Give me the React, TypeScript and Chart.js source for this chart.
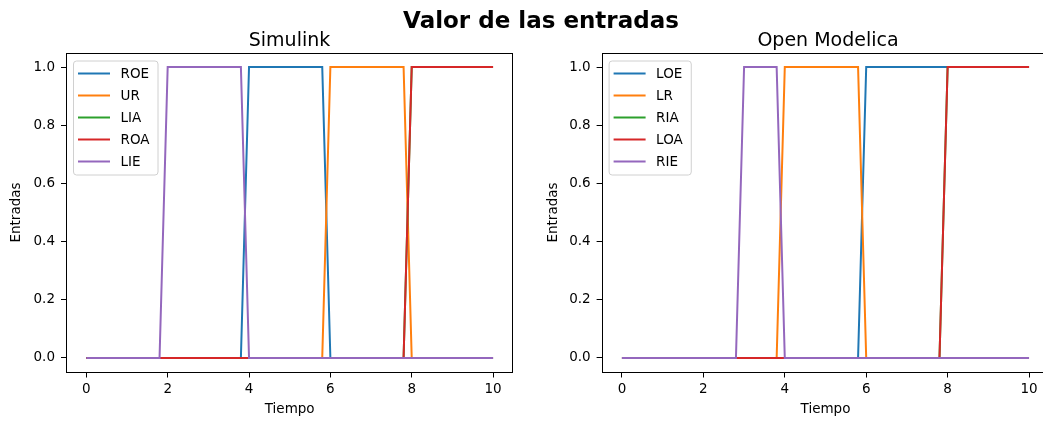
import React, { useEffect, useRef } from "react";
import { Chart, registerables } from "chart.js";

Chart.register(...registerables);

const FONT = "DejaVu Sans";
const FS = 13.5;

// Tick values
const xTickValues = [0, 2, 4, 6, 8, 10];
const yTickValues = [0, 0.2, 0.4, 0.6, 0.8, 1.0];

// tab10 colours
const colors = ["#1f77b4", "#ff7f0e", "#2ca02c", "#d62728", "#9467bd"];

// ---- Simulink series (Tiempo breakpoints / values) ----
const simLabels = ["ROE", "UR", "LIA", "ROA", "LIE"];
const simRoeX = [0, 3.8, 4, 5.8, 6, 10];
const simRoeY = [0, 0, 1, 1, 0, 0];
const simUrX = [0, 5.8, 6, 7.8, 8, 10];
const simUrY = [0, 0, 1, 1, 0, 0];
const simLiaX = [0, 7.8, 8, 10];
const simLiaY = [0, 0, 1, 1];
const simRoaX = [0, 7.8, 8, 10];
const simRoaY = [0, 0, 1, 1];
const simLieX = [0, 1.8, 2, 3.8, 4, 10];
const simLieY = [0, 0, 1, 1, 0, 0];

// ---- Open Modelica series ----
const omLabels = ["LOE", "LR", "RIA", "LOA", "RIE"];
const omLoeX = [0, 5.8, 6, 10];
const omLoeY = [0, 0, 1, 1];
const omLrX = [0, 3.8, 4, 5.8, 6, 10];
const omLrY = [0, 0, 1, 1, 0, 0];
const omRiaX = [0, 7.8, 8, 10];
const omRiaY = [0, 0, 1, 1];
const omLoaX = [0, 7.8, 8, 10];
const omLoaY = [0, 0, 1, 1];
const omRieX = [0, 2.8, 3, 3.8, 4, 10];
const omRieY = [0, 0, 1, 1, 0, 0];

const simXs = [simRoeX, simUrX, simLiaX, simRoaX, simLieX];
const simYs = [simRoeY, simUrY, simLiaY, simRoaY, simLieY];
const omXs = [omLoeX, omLrX, omRiaX, omLoaX, omRieX];
const omYs = [omLoeY, omLrY, omRiaY, omLoaY, omRieY];

const framePlugin = {
  id: "frame",
  afterDatasetsDraw(chart: any) {
    const { ctx, chartArea: a } = chart;
    ctx.save();
    ctx.strokeStyle = "#000";
    ctx.lineWidth = 1;
    const l = Math.round(a.left) + 0.5;
    const t = Math.round(a.top) + 0.5;
    const r = Math.round(a.right) - 0.5;
    const b = Math.round(a.bottom) - 0.5;
    ctx.strokeRect(l, t, r - l, b - t);
    ctx.restore();
  },
};

const legendPlugin = {
  id: "mplLegend",
  afterDraw(chart: any) {
    const { ctx, chartArea: a } = chart;
    const labels: string[] = chart.config.options.plugins.mplLegend.labels;
    ctx.save();
    ctx.font = `13.5px "${FONT}"`;
    let maxW = 0;
    labels.forEach((s) => (maxW = Math.max(maxW, ctx.measureText(s).width)));
    const bx = a.left + 7;
    const by = a.top + 8;
    const bw = 47.5 + maxW + 8;
    const bh = 114;
    ctx.beginPath();
    (ctx as any).roundRect(bx + 0.5, by + 0.5, bw, bh, 3);
    ctx.fillStyle = "rgba(255,255,255,0.8)";
    ctx.fill();
    ctx.strokeStyle = "#d0d0d0";
    ctx.lineWidth = 1;
    ctx.stroke();
    labels.forEach((s, i) => {
      const y = by + 13 + i * 22;
      ctx.beginPath();
      ctx.strokeStyle = colors[i];
      ctx.lineWidth = 2;
      ctx.moveTo(bx + 5, y);
      ctx.lineTo(bx + 37, y);
      ctx.stroke();
      ctx.fillStyle = "#000";
      ctx.textBaseline = "middle";
      ctx.textAlign = "left";
      ctx.fillText(s, bx + 47.5, y + 1);
    });
    ctx.restore();
  },
};

function makeConfig(labels: string[], xs: number[][], ys: number[][], yWidth: number, padRight: number, yTitlePad: number) {
  const n = labels.length;
  return {
    type: "scatter" as const,
    data: {
      datasets: labels.map((name, i) => ({
        label: name,
        data: xs[i].map((x, j) => ({ x, y: ys[i][j] })),
        showLine: true,
        borderColor: colors[i],
        backgroundColor: colors[i],
        borderWidth: 2,
        pointRadius: 0,
        pointHoverRadius: 0,
        tension: 0,
        order: n - i,
      })),
    },
    options: {
      animation: false,
      responsive: false,
      events: [],
      layout: { padding: { top: 52.5, right: padRight, bottom: 0, left: 0 } },
      plugins: {
        legend: { display: false },
        tooltip: { enabled: false },
        title: { display: false },
        mplLegend: { labels },
      },
      scales: {
        x: {
          type: "linear",
          min: -0.5,
          max: 10.5,
          afterBuildTicks: (s: any) => {
            s.ticks = xTickValues.map((v) => ({ value: v }));
          },
          afterFit: (s: any) => {
            s.height = 48.5;
          },
          grid: { drawOnChartArea: false, drawTicks: true, tickLength: 5, color: "#000", lineWidth: 1 },
          border: { display: false },
          ticks: {
            color: "#000",
            font: { family: FONT, size: FS },
            padding: 4,
            maxRotation: 0,
            autoSkip: false,
            callback: (v: any) => String(v),
          },
          title: { display: true, text: "Tiempo", color: "#000", font: { family: FONT, size: FS }, padding: { top: 0, bottom: 3 } },
        },
        y: {
          type: "linear",
          min: -0.05,
          max: 1.05,
          afterBuildTicks: (s: any) => {
            s.ticks = yTickValues.map((v) => ({ value: v }));
          },
          afterFit: (s: any) => {
            s.width = yWidth;
          },
          grid: { drawOnChartArea: false, drawTicks: true, tickLength: 5, color: "#000", lineWidth: 1 },
          border: { display: false },
          ticks: {
            color: "#000",
            font: { family: FONT, size: FS },
            padding: 6,
            autoSkip: false,
            callback: (v: any) => Number(v).toFixed(1),
          },
          title: { display: true, text: "Entradas", color: "#000", font: { family: FONT, size: FS }, padding: { top: yTitlePad, bottom: 0 } },
        },
      },
    },
    plugins: [framePlugin, legendPlugin],
  };
}

function Panel(props: { left: number; width: number; labels: string[]; xs: number[][]; ys: number[][]; yWidth: number; padRight: number; yTitlePad: number }) {
  const ref = useRef<HTMLCanvasElement>(null);
  useEffect(() => {
    if (!ref.current) return;
    const chart = new Chart(ref.current, makeConfig(props.labels, props.xs, props.ys, props.yWidth, props.padRight, props.yTitlePad) as any);
    return () => chart.destroy();
  }, []);
  return (
    <canvas
      ref={ref}
      width={props.width}
      height={421}
      style={{ position: "absolute", left: props.left, top: 0, width: props.width, height: 421 }}
    />
  );
}

const textStyle = (x: number, y: number, size: number, bold: boolean): React.CSSProperties => ({
  position: "absolute",
  left: x,
  top: y,
  transform: "translate(-50%, -50%)",
  fontFamily: FONT,
  fontSize: size,
  fontWeight: bold ? "bold" : "normal",
  whiteSpace: "nowrap",
  lineHeight: 1,
  color: "#000",
});

export default function App() {
  return (
    <div
      style={{
        position: "fixed",
        left: 0,
        top: 0,
        width: 1043,
        height: 421,
        overflow: "hidden",
        background: "#fff",
      }}
    >
      <Panel left={0} width={540} labels={simLabels} xs={simXs} ys={simYs} yWidth={66} padRight={26.6} yTitlePad={8} />
      <Panel left={540} width={520} labels={omLabels} xs={omXs} ys={omYs} yWidth={61.6} padRight={10.6} yTitlePad={5} />
      <div style={textStyle(541, 20, 23, true)}>Valor de las entradas</div>
      <div style={textStyle(289.5, 39, 19, false)}>Simulink</div>
      <div style={textStyle(828, 39, 19, false)}>Open Modelica</div>
    </div>
  );
}
